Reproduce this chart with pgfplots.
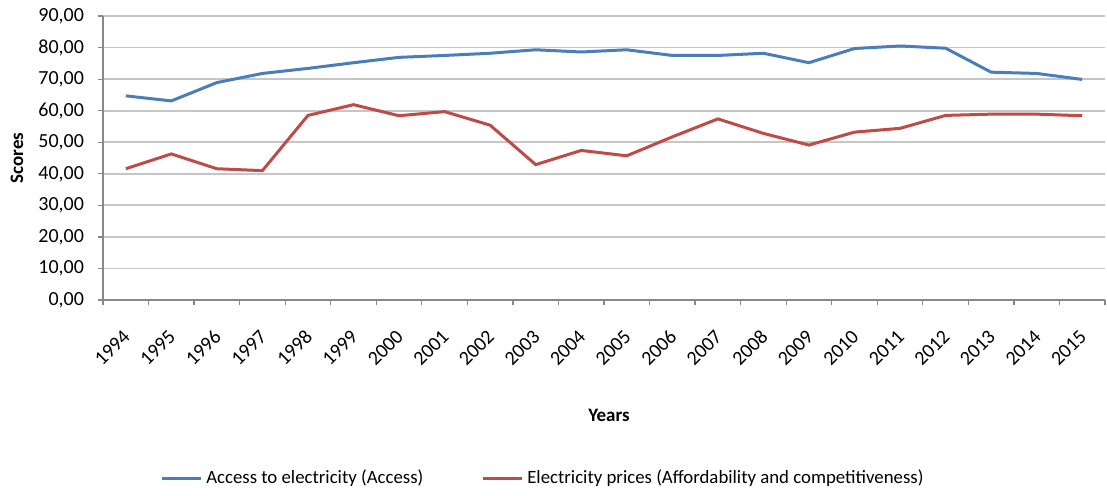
\documentclass[border=0pt]{standalone}
\usepackage{pgfplots}
\pgfplotsset{compat=1.18}
\usepackage{fontspec}
\setmainfont{Carlito}
\definecolor{ablue}{HTML}{4A7EBB}
\definecolor{ared}{HTML}{BE4B48}
\definecolor{gridg}{HTML}{C6C6C6}
\definecolor{axg}{HTML}{888888}
\begin{document}
\begin{tikzpicture}
\path (-51.5pt,-97.5pt) rectangle (502pt,150pt);
\begin{axis}[at={(0,0)}, anchor=south west, scale only axis,
  width=501pt, height=142pt,
  xmin=-0.5, xmax=21.5, ymin=0, ymax=90,
  ytick={0,10,...,90},
  xtick={0,...,21},
  xticklabels={1994,1995,1996,1997,1998,1999,2000,2001,2002,2003,2004,2005,2006,2007,2008,2009,2010,2011,2012,2013,2014,2015},
  minor xtick={-0.5,0.5,...,21.5},
  major x tick style={draw=none},
  minor x tick style={draw=axg, line width=0.6pt},
  major y tick style={draw=axg, line width=0.6pt},
  tick align=outside,
  major tick length=2.5pt, minor tick length=2.5pt,
  axis x line*=bottom, axis y line*=left,
  axis line style={axg, line width=0.6pt, -},
  ymajorgrids, grid style={gridg, line width=0.9pt},
  /pgf/number format/.cd, fixed, fixed zerofill, precision=2, use comma, assume math mode=true,
  /pgfplots/.cd,
  tick label style={font=\fontsize{10}{12}\selectfont},
  yticklabel style={xshift=-3.5pt},
  xticklabel style={inner sep=0pt, yshift=-14pt, xshift=0.5pt, rotate=45, anchor=east},
  xlabel={\textbf{Years}}, ylabel={\textbf{Scores}},
  label style={font=\fontsize{9.5}{11}\selectfont},
  xlabel style={at={(axis description cs:0.5,0)}, anchor=center, yshift=-57.5pt, xshift=2.5pt},
  ylabel style={at={(axis description cs:0,0.5)}, anchor=center, yshift=43pt},
  legend columns=2,
  legend style={draw=none, fill=none, at={(axis description cs:0.44,-0.627)}, anchor=center,
    font=\fontsize{9.4}{11}\selectfont,
    /tikz/every even column/.append style={column sep=27pt},
    /tikz/every odd column/.append style={column sep=0pt}},
  legend image code/.code={\draw[#1, line width=1.5pt] (0pt,0pt) -- (19.5pt,0pt);},
]
\addplot[ablue, line width=1.5pt] coordinates {
(0,64.7) (1,63.1) (2,68.9) (3,71.8) (4,73.4) (5,75.2) (6,76.9) (7,77.5) (8,78.2) (9,79.3) (10,78.6)
(11,79.3) (12,77.5) (13,77.5) (14,78.2) (15,75.2) (16,79.7) (17,80.5) (18,79.8) (19,72.2) (20,71.8) (21,69.9)};
\addlegendentry{Access to electricity (Access)}
\addplot[ared, line width=1.5pt] coordinates {
(0,41.6) (1,46.3) (2,41.6) (3,41.0) (4,58.5) (5,61.9) (6,58.4) (7,59.7) (8,55.4) (9,42.9) (10,47.4)
(11,45.7) (12,51.7) (13,57.4) (14,52.8) (15,49.1) (16,53.2) (17,54.4) (18,58.5) (19,58.9) (20,58.9) (21,58.4)};
\addlegendentry{Electricity prices (Affordability and competitiveness)}
\end{axis}
\end{tikzpicture}
\end{document}
